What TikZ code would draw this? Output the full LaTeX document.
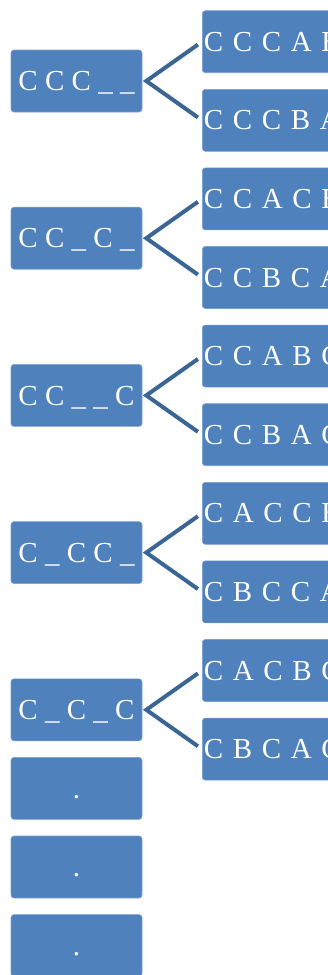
\documentclass[tikz,border=0pt]{standalone}
\usepackage{fontspec}
\setmainfont{Liberation Serif}
\definecolor{boxblue}{HTML}{4F81BD}
\definecolor{boxedge}{HTML}{7BA0D2}
\definecolor{linkblue}{HTML}{3A6594}
\begin{document}
\begin{tikzpicture}[x=1pt,y=-1pt,
 lbox/.style={draw=boxedge, line width=0.6pt, fill=boxblue, rounded corners=3pt,
   minimum width=131pt, minimum height=62pt, inner sep=0pt, text=white,
   font=\fontsize{29}{29}\selectfont, text height=19.2pt, text depth=0pt},
 rbox/.style={lbox, minimum width=0pt, text width=150pt, align=left, inner xsep=1.5pt, anchor=west},
 link/.style={draw=linkblue, line width=4pt, line join=miter, shorten <=5pt, shorten >=5pt}]
\useasboundingbox (0,0) rectangle (328,975);
\clip (0,0) rectangle (328,975);
% left column
\node[lbox] (l0) at (76.5,81.0)  {C C C \_ \_};
\node[lbox] (l1) at (76.5,238.2) {C C \_ C \_};
\node[lbox] (l2) at (76.5,395.4) {C C \_ \_ C};
\node[lbox] (l3) at (76.5,552.6) {C \_ C C \_};
\node[lbox] (l4) at (76.5,709.8) {C \_ C \_ C};
\node[lbox] (d0) at (76.5,788.4) {.};
\node[lbox] (d1) at (76.5,867.0) {.};
\node[lbox] (d2) at (76.5,945.6) {.};
% right column
\node[rbox] (r0) at (202,41.7)  {C C C A B};
\node[rbox] (r1) at (202,120.3) {C C C B A};
\node[rbox] (r2) at (202,198.9) {C C A C B};
\node[rbox] (r3) at (202,277.5) {C C B C A};
\node[rbox] (r4) at (202,356.1) {C C A B C};
\node[rbox] (r5) at (202,434.7) {C C B A C};
\node[rbox] (r6) at (202,513.3) {C A C C B};
\node[rbox] (r7) at (202,591.9) {C B C C A};
\node[rbox] (r8) at (202,670.5) {C A C B C};
\node[rbox] (r9) at (202,749.1) {C B C A C};
% connectors
\draw[link] (r0.west) -- ([xshift=4pt]l0.east) -- (r1.west);
\draw[link] (r2.west) -- ([xshift=4pt]l1.east) -- (r3.west);
\draw[link] (r4.west) -- ([xshift=4pt]l2.east) -- (r5.west);
\draw[link] (r6.west) -- ([xshift=4pt]l3.east) -- (r7.west);
\draw[link] (r8.west) -- ([xshift=4pt]l4.east) -- (r9.west);
\end{tikzpicture}
\end{document}
